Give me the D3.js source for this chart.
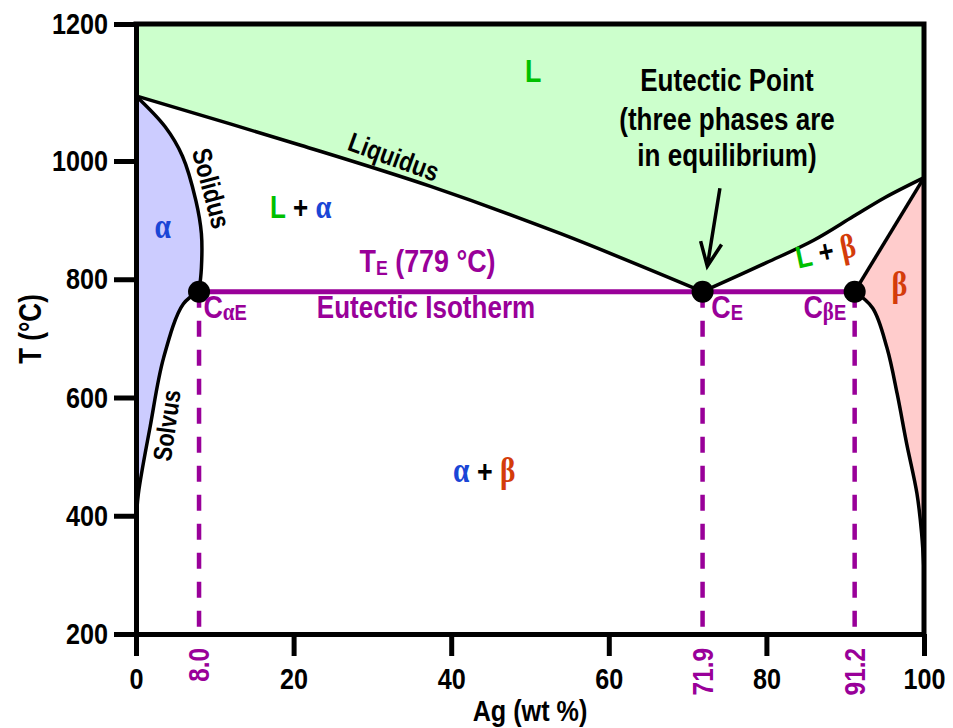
<!DOCTYPE html>
<html><head><meta charset="utf-8">
<script src="https://cdn.jsdelivr.net/npm/d3@7"></script>
<style>body{margin:0;background:#fff}svg{display:block}</style>
</head><body>
<svg id="c" width="953" height="728"></svg>
<script>
// ---------- data ----------
const xTicks = [0, 20, 40, 60, 80, 100];
const yTicks = [200, 400, 600, 800, 1000, 1200];
const eutecticT = 779;
const keyComp = [8.0, 71.9, 91.2];
const keyCompLabels = ["8.0", "71.9", "91.2"];
const liquidusLeft  = [[0,1095],[20.9,1023],[37.4,957],[53.9,877],[71.9,779]];
const liquidusRight = [[71.9,779],[80,828],[86,866],[91,906],[95,938],[100,972]];
const solidusLeft   = [[0,1095],[3.7,1050],[5.9,1007],[7.6,933],[8.3,877],[8.3,819],[8.0,779]];
const solvusLeft    = [[8.0,779],[6.0,758],[3.5,667],[1.8,551],[0.3,437],[0,386]];
const solidusRight  = [[100,972],[91.2,779]];
const solvusRight   = [[91.2,779],[93.5,751],[95.3,684],[96.6,606],[97.8,522],[99.1,438],[99.7,370],[100,308]];

// ---------- styles ----------
const FONT = "'Liberation Sans',Arial,sans-serif";
const GREEK = "'Liberation Serif','Times New Roman',serif";
const SX = 0.84; // horizontal condensing of the bold face
const PURPLE = "#990099", GREEN = "#00c000", BLUE = "#1a46d6", RED = "#d43c0a";

const svg = d3.select("#c");
const x = d3.scaleLinear().domain([0, 100]).range([136, 924]);
const y = d3.scaleLinear().domain([200, 1000, 1200]).range([634, 161, 24]);

const curve = d3.line().x(d => x(d[0])).y(d => y(d[1])).curve(d3.curveCatmullRom.alpha(0.5));
const straight = d3.line().x(d => x(d[0])).y(d => y(d[1]));
const cont = p => p.replace(/^M/, "L");
const rev = a => a.slice().reverse();

// ---------- fills ----------
svg.append("path")
  .attr("d", straight([[0,1200],[100,1200],[100,972]]) + cont(curve(rev(liquidusRight))) + cont(curve(rev(liquidusLeft))) + "Z")
  .attr("fill", "#ccffcc");
svg.append("path")
  .attr("d", curve(solidusLeft) + cont(curve(solvusLeft)) + "Z")
  .attr("fill", "#ccccff");
svg.append("path")
  .attr("d", straight(solidusRight) + cont(curve(solvusRight)) + "Z")
  .attr("fill", "#ffcccc");

// ---------- phase boundaries ----------
[liquidusLeft, liquidusRight, solidusLeft, solvusLeft, solvusRight].forEach(c =>
  svg.append("path").attr("d", curve(c)).attr("fill", "none").attr("stroke", "#000").attr("stroke-width", 3.5).attr("stroke-linejoin","round"));
svg.append("path").attr("d", straight(solidusRight)).attr("fill", "none").attr("stroke", "#000").attr("stroke-width", 3.5);

// ---------- eutectic construction ----------
svg.selectAll("line.drop").data(keyComp).join("line").attr("class","drop")
  .attr("x1", d => x(d)).attr("x2", d => x(d))
  .attr("y1", y(eutecticT)).attr("y2", y(200))
  .attr("stroke", PURPLE).attr("stroke-width", 4.5).attr("stroke-dasharray", "16,13");
svg.append("line")
  .attr("x1", x(keyComp[0])).attr("x2", x(keyComp[2]))
  .attr("y1", y(eutecticT)).attr("y2", y(eutecticT))
  .attr("stroke", PURPLE).attr("stroke-width", 5);
svg.selectAll("circle.pt").data(keyComp).join("circle").attr("class","pt")
  .attr("cx", d => x(d)).attr("cy", y(eutecticT)).attr("r", 11).attr("fill", "#000");

// ---------- axes ----------
const styleAxis = g => {
  g.attr("font-family", FONT).attr("font-size", 30).attr("font-weight", "bold");
  g.selectAll("path.domain").attr("stroke", "#000").attr("stroke-width", 5);
  g.selectAll(".tick line").attr("stroke", "#000").attr("stroke-width", 5);
  g.selectAll(".tick text").attr("fill", "#000")
    .attr("x", function() { return (+this.getAttribute("x") || 0) / SX; })
    .attr("transform", `scale(${SX},1)`);
};
svg.append("g").attr("transform", `translate(${x(0)},0)`)
  .call(d3.axisLeft(y).tickValues(yTicks).tickFormat(d3.format("d")).tickSize(22).tickSizeOuter(0).tickPadding(6))
  .call(styleAxis);
svg.append("g").attr("transform", `translate(0,${y(200)})`)
  .call(d3.axisBottom(x).tickValues(xTicks).tickFormat(d3.format("d")).tickSize(22).tickSizeOuter(0).tickPadding(12))
  .call(styleAxis);
// frame: top and right
svg.append("path").attr("d", straight([[0,1200],[100,1200],[100,200]]))
  .attr("fill","none").attr("stroke","#000").attr("stroke-width",5).attr("stroke-linecap","square");

// ---------- text helper ----------
const T = (px, py, txt, opts = {}) => {
  const t = svg.append("text")
    .attr("transform", `translate(${px},${py}) rotate(${opts.rot || 0}) scale(${SX},1)`)
    .attr("text-anchor", opts.anchor || "middle")
    .attr("font-family", opts.family || FONT).attr("font-size", opts.size || 30)
    .attr("font-weight", "bold")
    .attr("fill", opts.fill || "#000");
  if (opts.dy) t.attr("dy", opts.dy);
  if (Array.isArray(txt)) {
    txt.forEach(s => t.append("tspan").attr("fill", s.fill || null).attr("font-size", s.size || null)
      .attr("font-family", s.greek ? GREEK : null)
      .attr("dy", s.dy || null).text(s.t));
  } else t.text(txt);
  return t;
};

// purple composition labels under axis
keyComp.forEach((d, i) =>
  T(x(d), y(200) + 14, keyCompLabels[i], {rot: -90, anchor: "end", dy: "0.36em", size: 29, fill: PURPLE}));

// axis titles
T(30, (y(200) + y(1200)) / 2, "T (°C)", {rot: -90, dy: "0.36em", size: 31});
T((x(0) + x(100)) / 2, 721, "Ag (wt %)", {size: 30});

// ---------- annotations (placed in data coordinates) ----------
const A = (xv, tv, txt, opts) => T(x(xv), y(tv), txt, opts);
A(50.4, 1115, "L", {fill: GREEN, size: 32});
A(75.0, 1102, "Eutectic Point", {size: 31});
A(75.0, 1045, "(three phases are", {size: 31});
A(75.0, 991, "in equilibrium)", {size: 31});
A(32.3, 992, "Liquidus", {rot: 20, size: 27});
A(9.6, 954, "Solidus", {rot: 75, size: 27, dy: "0.36em"});
A(3.87, 553, "Solvus", {rot: -82, size: 26, dy: "0.36em"});
A(3.4, 887, "α", {fill: BLUE, size: 35, family: GREEK, dy: "0.3em"});
A(20.9, 903, [{t:"L", fill: GREEN},{t:" + "},{t:"α", fill: BLUE, greek: true, size: 34}], {size: 31});
A(37.0, 812, [{t:"T"},{t:"E", size: 21, dy: 3},{t:" (779 °C)", dy: -3}], {fill: PURPLE, size: 32});
A(36.8, 734, "Eutectic Isotherm", {fill: PURPLE, size: 31});
A(8.56, 734, [{t:"C"},{t:"α", size: 25, dy: 2, greek: true},{t:"E", size: 22}], {fill: PURPLE, size: 32, anchor: "start"});
A(73.0, 734, [{t:"C"},{t:"E", size: 22, dy: 2}], {fill: PURPLE, size: 32, anchor: "start"});
A(84.7, 734, [{t:"C"},{t:"β", size: 25, dy: 2, greek: true},{t:"E", size: 22}], {fill: PURPLE, size: 32, anchor: "start"});
A(87.8, 829, [{t:"L", fill: GREEN},{t:" + "},{t:"β", fill: RED, greek: true, size: 34}], {rot: -12, size: 31});
A(96.9, 790, "β", {fill: RED, size: 36, family: GREEK, dy: "0.3em"});
A(44.2, 477, [{t:"α", fill: BLUE, greek: true, size: 35},{t:" + "},{t:"β", fill: RED, greek: true, size: 35}], {size: 32, dy: "0.36em"});

// arrow to eutectic point
const tail = [x(74.1), y(954)], tip = [x(72.5), y(822)];
const ang = Math.atan2(tip[1]-tail[1], tip[0]-tail[0]);
const hl = 26, ha = 0.42;
const w1 = [tip[0] - hl*Math.cos(ang - ha), tip[1] - hl*Math.sin(ang - ha)];
const w2 = [tip[0] - hl*Math.cos(ang + ha), tip[1] - hl*Math.sin(ang + ha)];
svg.append("path").attr("d", `M${tail}L${tip}M${w1}L${tip}L${w2}`)
  .attr("fill","none").attr("stroke","#000").attr("stroke-width",3.5).attr("stroke-linejoin","miter");
</script>
</body></html>
